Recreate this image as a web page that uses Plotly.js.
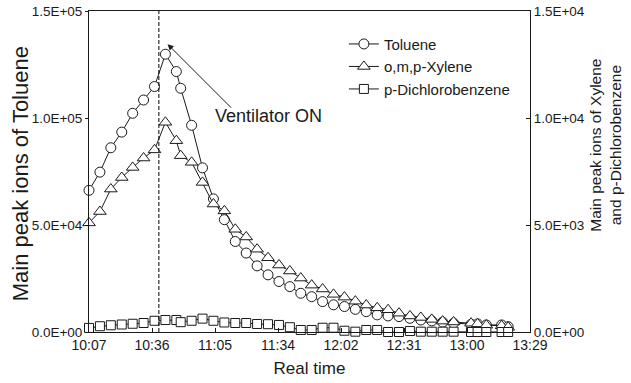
<!DOCTYPE html>
<html><head><meta charset="utf-8">
<script src="https://cdn.plot.ly/plotly-3.0.1.min.js"></script>
<style>html,body{margin:0;padding:0;background:#fff}#chart{width:631px;height:383px}</style>
</head><body><div id="chart"></div>
<script>
// ---- data ----
const times = ["10:07","10:12","10:17","10:22","10:27","10:32","10:37","10:42","10:47","10:49",
  "10:54","10:59","11:04","11:09","11:14","11:19","11:24","11:29","11:34","11:39",
  "11:44","11:49","11:54","11:59","12:04","12:09","12:14","12:19","12:24","12:29",
  "12:34","12:39","12:44","12:49","12:54","13:02","13:05","13:09","13:16","13:19"];
const toluene = [66200,74700,86100,93400,102200,108400,114700,129800,121700,113900,
  96600,76700,62200,52500,42300,36900,30900,26700,23600,21200,
  18100,16500,14200,12700,11900,10600,9500,8000,7500,7200,
  6400,5600,5200,4600,4100,3600,3800,3300,3300,2500];
const xylene = [5100,5630,6680,7220,7690,8130,8510,9800,8940,8240,
  7930,6990,5980,5660,4800,4440,3870,3470,3130,2850,
  2520,2190,2010,1760,1630,1440,1260,1130,1040,880,
  750,680,590,510,470,410,380,320,290,220];
const dichlorobenzene = [190,270,315,350,385,420,525,560,560,460,
  525,625,525,445,420,420,375,365,330,225,
  95,95,200,200,60,15,95,95,0,0,
  45,15,15,15,15,0,0,0,0,0];
const xTickLabels = ["10:07","10:36","11:05","11:34","12:02","12:31","13:00","13:29"];
const yLeftTickVals = [0, 50000, 100000, 150000];
const yLeftTickText = ["0.0E+00","5.0E+04","1.0E+05","1.5E+05"];
const yRightTickVals = [0, 5000, 10000, 15000];
const yRightTickText = ["0.0E+00","5.0E+03","1.0E+04","1.5E+04"];
const ventilatorOnTime = "10:39";
const arrowTip = {time: "10:43", value: 134500};
const labelPos = {time: "11:29", value: 100800};

// ---- helpers ----
const toMin = s => { const [h, m] = s.split(":").map(Number); return h * 60 + m; };
const x = times.map(toMin);
const xStart = toMin(xTickLabels[0]);
const xEnd = toMin(xTickLabels[xTickLabels.length - 1]);
const xTickVals = xTickLabels.map((_, i) => xStart + i * (xEnd - xStart) / (xTickLabels.length - 1));

const FONT = "Liberation Sans, Arial, sans-serif";
const INK = "#1a1a1a";
const lineStyle = {color: INK, width: 1};
const mk = (symbol, size) => ({symbol, size, color: "#ffffff", line: {color: INK, width: 1}});

const traces = [
  {x, y: toluene, name: "Toluene", mode: "lines+markers", line: lineStyle,
   marker: mk("circle", 10), yaxis: "y", cliponaxis: false},
  {x, y: xylene, name: "o,m,p-Xylene", mode: "lines+markers", line: lineStyle,
   marker: mk("triangle-up", 11), yaxis: "y2", cliponaxis: false},
  {x, y: dichlorobenzene, name: "p-Dichlorobenzene", mode: "lines+markers", line: lineStyle,
   marker: mk("square", 9), yaxis: "y2", cliponaxis: false}
];

const layout = {
  width: 631, height: 383,
  margin: {l: 89, r: 101, t: 11, b: 51},
  paper_bgcolor: "#ffffff", plot_bgcolor: "#ffffff",
  font: {family: FONT, color: INK, size: 14},
  showlegend: true,
  legend: {x: 0.578, y: 0.948, xanchor: "left", yanchor: "top",
    bgcolor: "rgba(0,0,0,0)", borderwidth: 0, font: {size: 15, family: FONT, color: INK}},
  xaxis: {
    range: [xStart, xEnd], tickmode: "array", tickvals: xTickVals, ticktext: xTickLabels,
    ticks: "inside", ticklen: 4, tickcolor: INK, showline: true, linecolor: INK, linewidth: 1,
    mirror: true, showgrid: false, zeroline: false,
    tickfont: {size: 14, family: FONT, color: INK},
    title: {text: "Real time", font: {size: 17, family: FONT, color: INK}, standoff: 10}
  },
  yaxis: {
    range: [0, 150000], tickmode: "array", tickvals: yLeftTickVals, ticktext: yLeftTickText,
    ticks: "outside", ticklen: 3, tickcolor: INK, showline: true, linecolor: INK, linewidth: 1,
    showgrid: false, zeroline: false,
    tickfont: {size: 13.5, family: FONT, color: INK}
  },
  yaxis2: {
    range: [0, 15000], overlaying: "y", side: "right", tickmode: "array",
    tickvals: yRightTickVals, ticktext: yRightTickText,
    ticks: "inside", ticklen: 4, tickcolor: INK, showline: true, linecolor: INK, linewidth: 1,
    showgrid: false, zeroline: false,
    tickfont: {size: 13.5, family: FONT, color: INK}
  },
  shapes: [{type: "line", xref: "x", yref: "paper", x0: toMin(ventilatorOnTime), x1: toMin(ventilatorOnTime),
    y0: 0, y1: 1, line: {color: "#000000", width: 1, dash: "4px,2px"}}],
  annotations: [
    {xref: "x", yref: "y", x: toMin(arrowTip.time), y: arrowTip.value, text: "",
     showarrow: true, arrowhead: 2, arrowsize: 1.2, arrowwidth: 1, arrowcolor: INK,
     ax: 65, ay: 65, axref: "pixel", ayref: "pixel"},
    {xref: "x", yref: "y", x: toMin(labelPos.time), y: labelPos.value, text: "Ventilator ON",
     showarrow: false, font: {size: 18, family: FONT, color: INK}},
    {xref: "paper", yref: "paper", x: -0.156, y: 0.492, xanchor: "center", yanchor: "middle",
     text: "Main peak ions of Toluene", textangle: -90, showarrow: false,
     font: {size: 22, family: FONT, color: INK}},
    {xref: "paper", yref: "paper", x: 1.172, y: 0.583, xanchor: "center", yanchor: "middle",
     text: "Main peak ions of Xylene<br>and p-Dichlorobenzene", textangle: -90, showarrow: false,
     font: {size: 15.5, family: FONT, color: INK}}
  ]
};

Plotly.newPlot("chart", traces, layout, {displayModeBar: false, staticPlot: true});
</script>
</body></html>
